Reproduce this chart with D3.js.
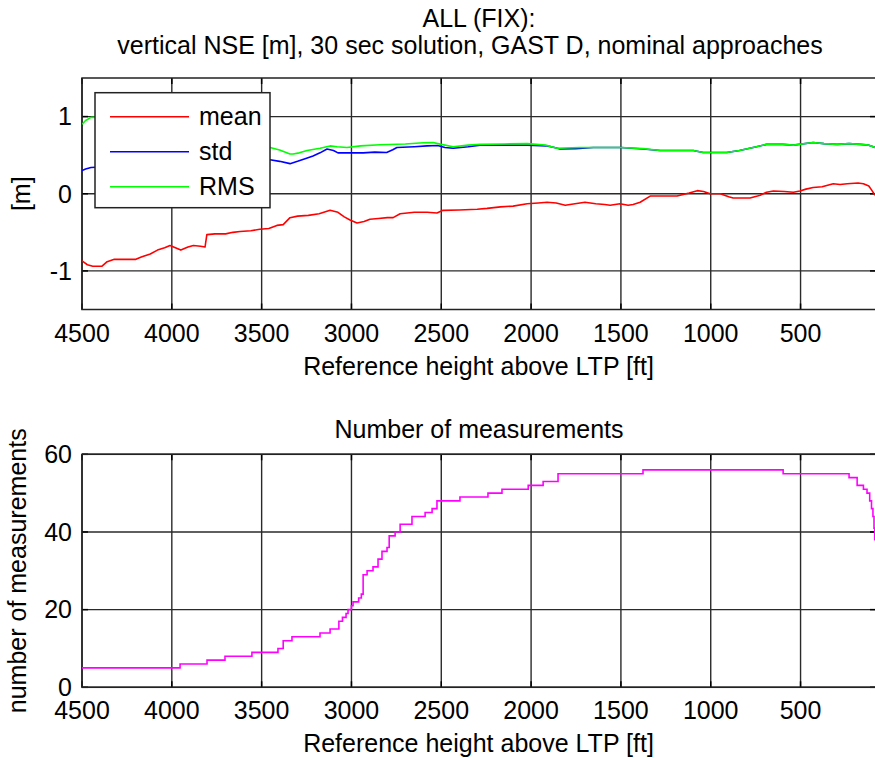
<!DOCTYPE html>
<html>
<head>
<meta charset="utf-8">
<script src="https://cdn.jsdelivr.net/npm/d3@7"></script>
<style>
  html, body { margin: 0; padding: 0; background: #fff; overflow: hidden; }
  svg text { font-family: "Liberation Sans", Arial, sans-serif; fill: #000; }
</style>
</head>
<body>
<svg id="chart" width="875" height="758"></svg>
<script>
// ---------- data ----------
const xTicks = [4500, 4000, 3500, 3000, 2500, 2000, 1500, 1000, 500];
const topYTicks = [-1, 0, 1];
const bottomYTicks = [0, 20, 40, 60];

const meanSeries = [[4500,-0.87],[4470,-0.92],[4440,-0.94],[4390,-0.94],[4360,-0.88],[4320,-0.85],[4200,-0.85],[4170,-0.82],[4120,-0.78],[4080,-0.73],[4040,-0.70],[4010,-0.67],[3980,-0.70],[3950,-0.73],[3910,-0.69],[3880,-0.67],[3840,-0.68],[3815,-0.69],[3805,-0.53],[3760,-0.52],[3700,-0.52],[3660,-0.50],[3620,-0.49],[3560,-0.48],[3510,-0.46],[3460,-0.45],[3415,-0.41],[3380,-0.40],[3342,-0.31],[3300,-0.29],[3240,-0.28],[3180,-0.26],[3119,-0.215],[3075,-0.24],[3040,-0.30],[3008,-0.34],[2969,-0.38],[2930,-0.36],[2897,-0.33],[2850,-0.32],[2800,-0.31],[2768,-0.31],[2729,-0.26],[2650,-0.24],[2579,-0.24],[2524,-0.25],[2490,-0.215],[2400,-0.21],[2300,-0.20],[2245,-0.19],[2170,-0.17],[2100,-0.16],[2022,-0.13],[1960,-0.12],[1911,-0.11],[1860,-0.12],[1810,-0.15],[1783,-0.14],[1728,-0.12],[1700,-0.11],[1640,-0.13],[1590,-0.14],[1560,-0.15],[1505,-0.13],[1460,-0.15],[1432,-0.14],[1393,-0.11],[1337,-0.03],[1250,-0.03],[1187,-0.03],[1120,0.01],[1075,0.04],[1040,0.03],[1003,0.0],[947,0.0],[900,-0.04],[875,-0.055],[781,-0.055],[740,-0.03],[725,-0.02],[690,0.02],[651,0.035],[590,0.03],[540,0.02],[503,0.035],[470,0.06],[430,0.08],[380,0.09],[318,0.13],[280,0.12],[240,0.13],[180,0.14],[150,0.13],[120,0.10],[105,0.05],[85,-0.02]];

const stdSeries = [[4500,0.30],[4480,0.32],[4450,0.34],[4300,0.36],[4100,0.40],[3900,0.44],[3700,0.45],[3500,0.46],[3453,0.44],[3400,0.42],[3342,0.39],[3300,0.42],[3250,0.46],[3214,0.49],[3175,0.53],[3136,0.58],[3100,0.56],[3075,0.53],[3000,0.53],[2935,0.53],[2870,0.54],[2804,0.535],[2770,0.57],[2747,0.60],[2650,0.61],[2579,0.62],[2520,0.625],[2480,0.60],[2434,0.59],[2350,0.61],[2284,0.63],[2150,0.63],[2022,0.63],[1911,0.62],[1870,0.60],[1839,0.58],[1750,0.585],[1654,0.60],[1500,0.60],[1376,0.58],[1281,0.56],[1097,0.56],[1042,0.535],[911,0.535],[840,0.56],[764,0.60],[689,0.64],[600,0.64],[540,0.63],[430,0.665],[370,0.65],[296,0.64],[230,0.65],[167,0.64],[120,0.63],[85,0.60]];

const rmsSeries = [[4500,0.90],[4480,0.95],[4450,0.99],[4300,1.0],[4100,0.95],[3900,0.85],[3700,0.72],[3500,0.62],[3453,0.60],[3400,0.567],[3342,0.515],[3325,0.515],[3290,0.53],[3247,0.56],[3175,0.59],[3119,0.62],[3080,0.61],[3025,0.60],[2950,0.62],[2841,0.635],[2700,0.645],[2600,0.66],[2546,0.665],[2500,0.64],[2434,0.61],[2350,0.63],[2284,0.64],[2150,0.645],[2022,0.65],[1920,0.63],[1856,0.59],[1728,0.60],[1654,0.60],[1500,0.60],[1376,0.585],[1281,0.56],[1097,0.56],[1042,0.535],[911,0.535],[840,0.56],[764,0.60],[689,0.64],[600,0.64],[540,0.63],[430,0.665],[370,0.65],[296,0.64],[230,0.65],[167,0.64],[120,0.63],[85,0.60]];

const countHeights = [4500,3954,3804,3704,3554,3409,3380,3331,3175,3119,3070,3050,3030,3019,3000,2991,2960,2945,2935,2913,2880,2852,2830,2802,2790,2757,2729,2663,2590,2551,2524,2396,2240,2162,2016,1933,1850,1377,597,230,185,150,130,115,105,97,91,87,80];
const countValues  = [5,6,7,8,9,10,12,13,14,15,17,18,19,20,21,22,23,24,29,30,31,33,35,36,39,40,42,44,45,46,48,49,50,51,52,53,55,56,55,54,52,51,50,48,46,44,41,38,37];

const legendLabels = ["mean", "std", "RMS"];
const seriesColors = ["#ff0000", "#0000ff", "#00ff00"];

// ---------- layout ----------
const svg = d3.select("#chart");
const FONT = 25;
const left = 82, right = 876;
const top1 = 78, bottom1 = 309.5;
const top2 = 454.3, bottom2 = 687.3;

const x = d3.scaleLinear().domain([4500, 80]).range([left, right]);
const y1 = d3.scaleLinear().domain([-1.5, 1.5]).range([bottom1, top1]);
const y2 = d3.scaleLinear().domain([0, 60]).range([bottom2, top2]);

const defs = svg.append("defs");
defs.append("clipPath").attr("id", "clip1").append("rect")
  .attr("x", left).attr("y", top1).attr("width", right - left).attr("height", bottom1 - top1);
defs.append("clipPath").attr("id", "clip2").append("rect")
  .attr("x", left).attr("y", top2).attr("width", right - left).attr("height", bottom2 - top2);

function drawAxes(yScale, yTicks, top, bottom) {
  const g = svg.append("g");
  // grid
  g.selectAll(".gx").data(xTicks).enter().append("line")
    .attr("x1", d => x(d)).attr("x2", d => x(d))
    .attr("y1", top).attr("y2", bottom)
    .attr("stroke", "#2a2a2a").attr("stroke-width", 1.4);
  g.selectAll(".gy").data(yTicks).enter().append("line")
    .attr("x1", left).attr("x2", right)
    .attr("y1", d => yScale(d)).attr("y2", d => yScale(d))
    .attr("stroke", "#2a2a2a").attr("stroke-width", 1.4);
  // inward ticks
  const tl = 6;
  xTicks.forEach(d => {
    g.append("line").attr("x1", x(d)).attr("x2", x(d)).attr("y1", bottom).attr("y2", bottom - tl).attr("stroke", "#000").attr("stroke-width", 1.5);
    g.append("line").attr("x1", x(d)).attr("x2", x(d)).attr("y1", top).attr("y2", top + tl).attr("stroke", "#000").attr("stroke-width", 1.5);
  });
  yTicks.forEach(d => {
    g.append("line").attr("x1", left).attr("x2", left + tl).attr("y1", yScale(d)).attr("y2", yScale(d)).attr("stroke", "#000").attr("stroke-width", 1.5);
    g.append("line").attr("x1", right).attr("x2", right - tl).attr("y1", yScale(d)).attr("y2", yScale(d)).attr("stroke", "#000").attr("stroke-width", 1.5);
  });
  // frame
  g.append("rect").attr("x", left).attr("y", top).attr("width", right - left).attr("height", bottom - top)
    .attr("fill", "none").attr("stroke", "#222").attr("stroke-width", 1.5);
  // tick labels
  g.selectAll(".xl").data(xTicks).enter().append("text")
    .attr("x", d => x(d)).attr("y", bottom + 32)
    .attr("text-anchor", "middle").attr("font-size", FONT).text(d => d);
  g.selectAll(".yl").data(yTicks).enter().append("text")
    .attr("x", left - 10).attr("y", d => yScale(d)).attr("dy", "0.35em")
    .attr("text-anchor", "end").attr("font-size", FONT).text(d => d);
  // x label
  g.append("text").attr("x", (left + right) / 2 - 0.5).attr("y", bottom + 65)
    .attr("text-anchor", "middle").attr("font-size", FONT).text("Reference height above LTP [ft]");
  return g;
}

// ---------- top plot ----------
drawAxes(y1, topYTicks, top1, bottom1);
const line1 = d3.line().x(d => x(d[0])).y(d => y1(d[1]));
const gLines = svg.append("g").attr("clip-path", "url(#clip1)");
[meanSeries, stdSeries, rmsSeries].forEach((s, i) => {
  gLines.append("path").datum(s).attr("d", line1)
    .attr("fill", "none").attr("stroke", seriesColors[i]).attr("stroke-width", 1.6)
    .attr("stroke-linejoin", "round");
});

// titles
const cx = (left + right) / 2;
svg.append("text").attr("x", cx).attr("y", 27).attr("text-anchor", "middle").attr("font-size", FONT).text("ALL (FIX):");
svg.append("text").attr("x", cx - 9).attr("y", 54).attr("text-anchor", "middle").attr("font-size", FONT)
  .text("vertical NSE [m], 30 sec solution, GAST D, nominal approaches");
svg.append("text").attr("transform", `translate(30,${(top1 + bottom1) / 2}) rotate(-90)`)
  .attr("text-anchor", "middle").attr("font-size", FONT).text("[m]");

// legend
const lg = svg.append("g");
lg.append("rect").attr("x", 95).attr("y", 92.7).attr("width", 175).attr("height", 115)
  .attr("fill", "#fff").attr("stroke", "#222").attr("stroke-width", 1.5);
legendLabels.forEach((lab, i) => {
  const yy = 116.7 + i * 35;
  lg.append("line").attr("x1", 110).attr("x2", 189).attr("y1", yy).attr("y2", yy)
    .attr("stroke", seriesColors[i]).attr("stroke-width", 1.6);
  lg.append("text").attr("x", 199).attr("y", yy + 8.5).attr("font-size", FONT).text(lab);
});

// ---------- bottom plot ----------
drawAxes(y2, bottomYTicks, top2, bottom2);
const countData = countHeights.map((h, i) => [h, countValues[i]]);
const line2 = d3.line().x(d => x(d[0])).y(d => y2(d[1])).curve(d3.curveStepAfter);
svg.append("g").attr("clip-path", "url(#clip2)").append("path").datum(countData).attr("d", line2)
  .attr("fill", "none").attr("stroke", "#ff00ff").attr("stroke-width", 1.6);

svg.append("text").attr("x", cx).attr("y", 438).attr("text-anchor", "middle").attr("font-size", FONT).text("Number of measurements");
svg.append("text").attr("transform", `translate(26,${(top2 + bottom2) / 2}) rotate(-90)`)
  .attr("text-anchor", "middle").attr("font-size", FONT).text("number of measurements");
</script>
</body>
</html>
